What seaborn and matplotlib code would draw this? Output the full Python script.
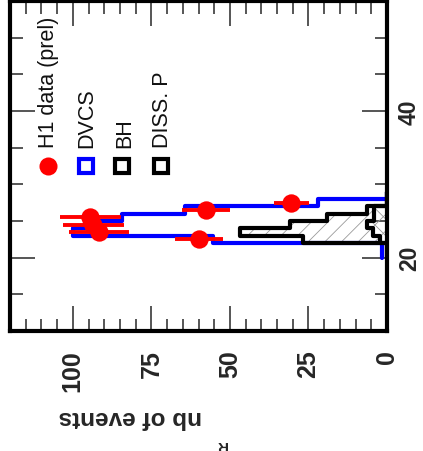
import numpy as np
import pandas as pd
import matplotlib
matplotlib.use("Agg")
import matplotlib.pyplot as plt
from matplotlib.ticker import MultipleLocator
import seaborn as sns

# ---- binned model predictions (W in GeV, 1 GeV bins) ----
w_edges = [20, 21, 22, 23, 24, 25, 26, 27, 28, 29]
w_centers = [20.5, 21.5, 22.5, 23.5, 24.5, 25.5, 26.5, 27.5, 28.5]
dvcs_counts = [1.5, 1.5, 55.3, 99.9, 96.0, 84.5, 64.3, 21.9, 0.0]
bh_counts = [0.0, 0.0, 26.7, 46.8, 30.9, 19.2, 6.5, 0.0, 0.0]
diss_counts = [0.0, 0.0, 2.2, 4.5, 6.5, 4.2, 4.2, 0.0, 0.0]

# ---- measured events ----
data_w = [22.5, 23.5, 24.5, 25.5, 26.5, 27.5]
data_n = [59.8, 91.7, 93.5, 94.4, 57.7, 30.4]
data_err = [7.7, 9.6, 9.7, 9.8, 7.6, 5.5]

count_ticks = [0, 25, 50, 75, 100]
w_ticks = [20, 40]

legend_labels = ["H1 data (prel)", "DVCS", "BH", "DISS. P"]

sns.set_theme(style="white")
plt.rcParams["font.family"] = ["Liberation Sans", "DejaVu Sans"]
plt.rcParams["hatch.linewidth"] = 0.6

W, H = 423, 452
fig = plt.figure(figsize=(W / 100, H / 100), dpi=100)
ax = fig.add_axes([10 / W, 120 / H, 377 / W, 330 / H])

df = pd.DataFrame({"w": w_centers, "dvcs": dvcs_counts,
                   "bh": bh_counts, "diss": diss_counts})

# DVCS prediction
sns.histplot(data=df, y="w", weights="dvcs", bins=w_edges, element="step",
             fill=False, color="#0000ff", linewidth=3.0, ax=ax)
# BH: hatched area + outline
sns.histplot(data=df, y="w", weights="bh", bins=w_edges, element="step",
             fill=True, color="#999999", facecolor="none",
             edgecolor="#999999", linewidth=0, hatch="//", ax=ax)
sns.histplot(data=df, y="w", weights="bh", bins=w_edges, element="step",
             fill=False, color="black", linewidth=3.0, ax=ax)
# proton dissociation: hatched area + outline
sns.histplot(data=df, y="w", weights="diss", bins=w_edges, element="step",
             fill=True, color="#999999", facecolor="none",
             edgecolor="#999999", linewidth=0, hatch="\\\\", ax=ax)
sns.histplot(data=df, y="w", weights="diss", bins=w_edges, element="step",
             fill=False, color="black", linewidth=3.0, ax=ax)

# data points with statistical errors
ax.errorbar(data_n, data_w, xerr=data_err, fmt="none", ecolor="#ff0000",
            elinewidth=2.8, capsize=0, zorder=5)
sns.scatterplot(x=data_n, y=data_w, color="#ff0000", s=175, linewidth=0,
                zorder=6, ax=ax)

ax.set_xlim(120, 0)
ax.set_ylim(10, 55)
ax.set_xlabel("")
ax.set_ylabel("")

ax.set_xticks(count_ticks)
ax.set_xticklabels([str(t) for t in count_ticks])
ax.xaxis.set_minor_locator(MultipleLocator(5))
ax.set_yticks(w_ticks)
ax.set_yticklabels([str(t) for t in w_ticks])
ax.yaxis.set_minor_locator(MultipleLocator(5))

ax.tick_params(which="both", direction="in", top=True, bottom=True,
               left=True, right=True, labelleft=False, labelright=True,
               labeltop=False, labelbottom=True, color="#555555", width=1.4)
ax.tick_params(which="major", length=18)
ax.tick_params(which="minor", length=9)
ax.tick_params(axis="x", which="major", pad=13, labelrotation=90,
               labelsize=18)
ax.tick_params(axis="y", which="major", pad=8, labelrotation=90,
               labelsize=16.5)
for lbl in ax.get_xticklabels() + ax.get_yticklabels():
    lbl.set_fontweight("bold")
for lbl in ax.get_yticklabels():
    lbl.set_va("center")

for sp in ax.spines.values():
    sp.set_visible(True)
    sp.set_color("black")
    sp.set_linewidth(3.0)

# legend, written sideways
leg_x = [0.0995, 0.2003, 0.2984, 0.4005]
txt_x = [0.1008, 0.2042, 0.3050, 0.4032]
leg_y = 0.5015
ax.plot([leg_x[0]], [leg_y], marker="o", ms=13, color="#ff0000", mew=0,
        transform=ax.transAxes, clip_on=False)
ax.plot([leg_x[1]], [leg_y], marker="s", ms=10.5, mfc="white", mec="#0000ff",
        mew=3.0, transform=ax.transAxes, clip_on=False)
ax.plot([leg_x[2]], [leg_y], marker="s", ms=10.5, mfc="white", mec="black",
        mew=3.0, transform=ax.transAxes, clip_on=False)
ax.plot([leg_x[3]], [leg_y], marker="s", ms=10.5, mfc="white", mec="black",
        mew=3.0, transform=ax.transAxes, clip_on=False)
for x, lab in zip(txt_x, legend_labels):
    ax.text(x, 0.5576, lab, rotation=90, ha="center", va="bottom",
            fontsize=15.5, color="#111111", transform=ax.transAxes)

fig.text(130 / W, 1 - 418 / H, "nb of events", rotation=180, ha="center",
         va="center", fontsize=17.5, fontweight="bold")
fig.text(221 / W, 1 - 445 / H, "R", rotation=180, ha="center",
         va="center", fontsize=11, fontweight="bold")

fig.savefig("out.png", dpi=100)
